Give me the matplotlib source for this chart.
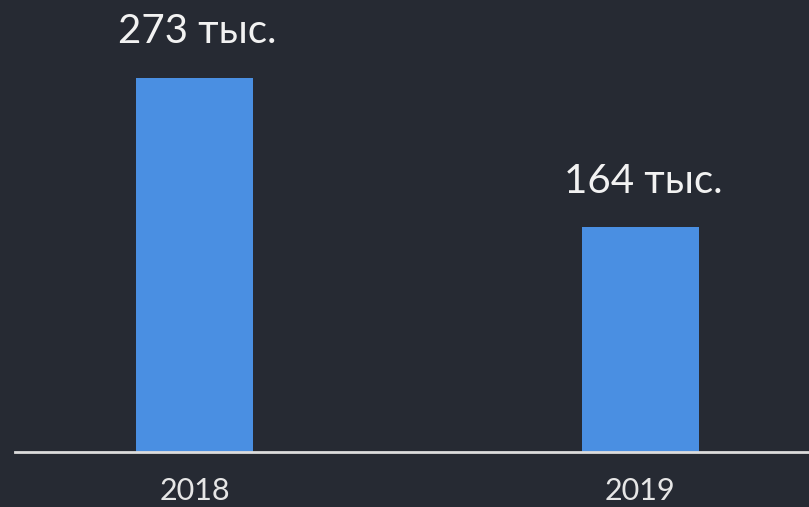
import matplotlib
matplotlib.use("Agg")
from matplotlib import pyplot as plt

# DATA ########################################################################

years = ["2018", "2019"]
values = [273, 164]
value_labels = ["273 тыс.", "164 тыс."]

# STYLE #######################################################################

bg_color = "#262a33"
bar_color = "#4a8fe2"
text_color = "#f2f2f2"

plt.rcParams["font.family"] = ["Lato", "DejaVu Sans"]

# PLOT ########################################################################

fig = plt.figure(figsize=(8.09, 5.07), dpi=100, facecolor=bg_color)
ax = fig.add_axes([15 / 809, 55 / 507, 794 / 809, 452 / 507])
ax.set_facecolor(bg_color)

x = range(len(years))
bars = ax.bar(x, values, width=0.263, color=bar_color, zorder=2)

for bar, label in zip(bars, value_labels):
    ax.annotate(label,
                (bar.get_x() + bar.get_width() / 2, bar.get_height()),
                xytext=(2, 20), textcoords="offset points",
                ha="center", va="bottom",
                fontsize=29, color=text_color)

ax.set_xlim(-0.403, 1.379)
ax.set_ylim(0, 330)

for side in ["top", "right", "left"]:
    ax.spines[side].set_visible(False)
ax.spines["bottom"].set_color("#dcdcdc")
ax.spines["bottom"].set_linewidth(2)
ax.spines["bottom"].set_zorder(3)

ax.set_yticks([])
ax.set_xticks(list(x))
ax.set_xticklabels(years)
ax.tick_params(axis="x", length=0, pad=18, labelsize=22, labelcolor="#e6e6e6")

fig.savefig("out.png", dpi=100, facecolor=bg_color)
